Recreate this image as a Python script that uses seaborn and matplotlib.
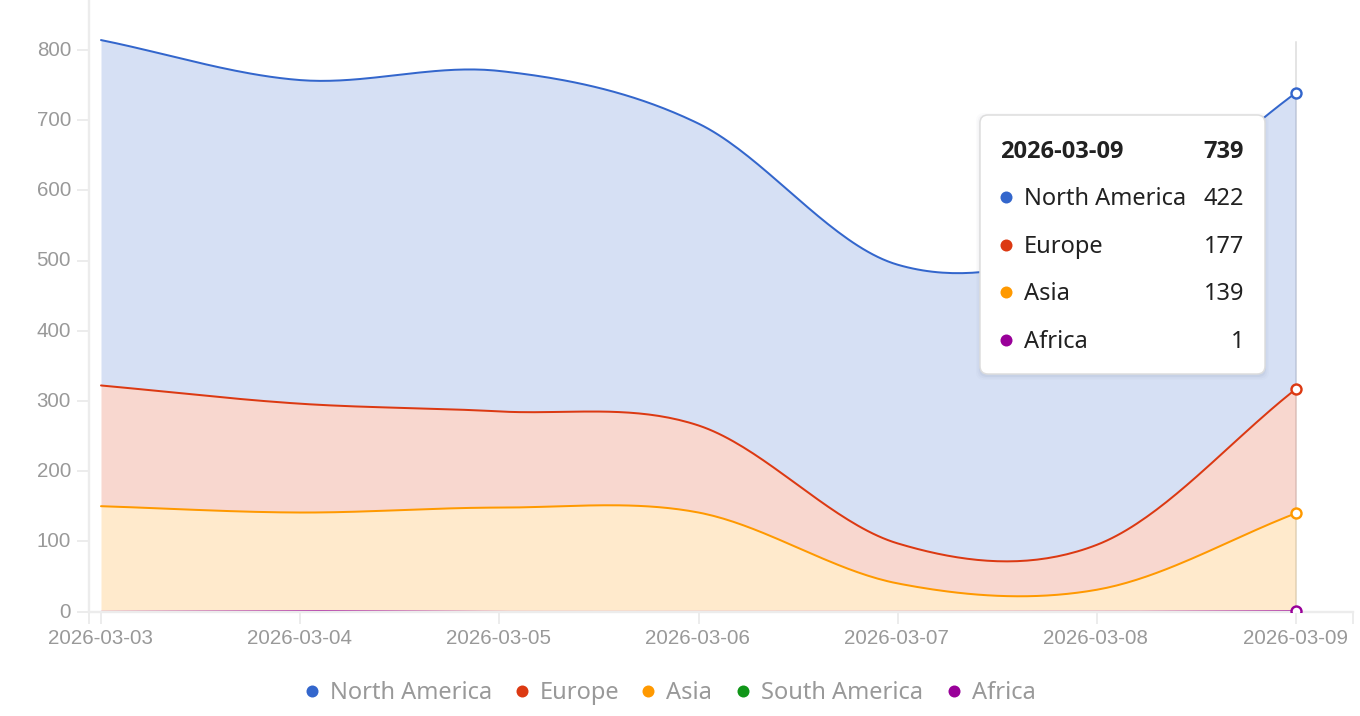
import numpy as np
import pandas as pd
import seaborn as sns
import matplotlib
matplotlib.use('Agg')
import matplotlib.pyplot as plt
import matplotlib.dates as mdates
from matplotlib.patches import FancyBboxPatch
from matplotlib.transforms import ScaledTranslation

# --- values ---
dates = pd.date_range('2026-03-03', periods=7, freq='D')
north_america = [492, 461, 485, 430, 397, 435, 422]
europe = [172, 155, 137, 124, 57, 64, 177]
asia = [150, 140, 148, 141, 40, 31, 139]
africa = [0, 1, 0, 0, 0, 0, 1]

y_ticks = [0, 100, 200, 300, 400, 500, 600, 700, 800]

legend_names = ['North America', 'Europe', 'Asia', 'South America', 'Africa']
colors = {'North America': '#3366cc', 'Europe': '#dc3912', 'Asia': '#ff9900',
          'South America': '#109618', 'Africa': '#990099'}

tooltip_title = '2026-03-09'
tooltip_total = '739'
tooltip_names = ['North America', 'Europe', 'Asia', 'Africa']
tooltip_values = ['422', '177', '139', '1']


def smooth(values, n=40):
    # catmull-rom curve through the daily points, same look as the web chart
    p = np.asarray(values, dtype=float)
    p = np.r_[2 * p[0] - p[1], p, 2 * p[-1] - p[-2]]
    out_x, out_y = [], []
    for i in range(len(values) - 1):
        u = np.linspace(0, 1, n, endpoint=False)
        p0, p1, p2, p3 = p[i], p[i + 1], p[i + 2], p[i + 3]
        y = 0.5 * (2 * p1 + (p2 - p0) * u + (2 * p0 - 5 * p1 + 4 * p2 - p3) * u ** 2
                   + (3 * p1 - p0 - 3 * p2 + p3) * u ** 3)
        out_x.append(i + u)
        out_y.append(y)
    out_x.append([len(values) - 1.0])
    out_y.append(p[-2:-1])
    return np.concatenate(out_x), np.concatenate(out_y)


sns.set_theme(style='white')
plt.rcParams['font.family'] = ['Liberation Sans', 'DejaVu Sans']

W, H = 1360, 716
fig = plt.figure(figsize=(W / 100, H / 100), dpi=100)
px = 0.72  # one pixel in points

axis_bottom = 611.5
ax = fig.add_axes([89 / W, (H - axis_bottom) / H, (1353 - 89) / W, axis_bottom / H])

start = dates[0]

# stack the series, africa at the bottom
top_africa = np.array(africa, dtype=float)
top_asia = top_africa + np.array(asia)
top_europe = top_asia + np.array(europe)
top_na = top_europe + np.array(north_america)

frames = []
bands = [('North America', top_europe, top_na), ('Europe', top_asia, top_europe),
         ('Asia', top_africa, top_asia)]
for name, low, high in bands:
    x, y_high = smooth(high)
    _, y_low = smooth(low)
    when = start + pd.to_timedelta(x, unit='D')
    ax.fill_between(when, y_low, y_high, color=colors[name], alpha=0.2, lw=0, zorder=1)
    frames.append(pd.DataFrame({'date': when, 'value': y_high, 'region': name}))
curves = pd.concat(frames, ignore_index=True)

sns.lineplot(data=curves, x='date', y='value', hue='region', estimator=None, sort=False,
             palette=colors, hue_order=['North America', 'Europe', 'Asia'],
             linewidth=2 * px, legend=False, ax=ax, zorder=3)

# africa sits under the axis line, so it only shows where it lifts off zero
x, y = smooth(top_africa)
africa_curve = pd.DataFrame({'date': start + pd.to_timedelta(x, unit='D'), 'value': y})
sns.lineplot(data=africa_curve, x='date', y='value', color=colors['Africa'], estimator=None,
             sort=False, linewidth=1.2 * px, ax=ax, zorder=2)

# hover line and the hollow markers on the last date
last = dates[-1]
ax.plot([last, last], [0, (axis_bottom - 42) / 0.702], color='#e4e4e4', lw=2 * px, zorder=0.5)
for name, value in [('North America', top_na[-1]), ('Europe', top_europe[-1]),
                    ('Asia', top_asia[-1]), ('Africa', top_africa[-1])]:
    ax.plot([last], [value], marker='o', ms=10 * px, mfc='white', mec=colors[name],
            mew=2.4 * px, zorder=4, clip_on=True)

# axes
ax.set_ylim(0, axis_bottom / 0.702)
x_left = start - pd.to_timedelta(12 / 199.17, unit='D')
x_right = start + pd.to_timedelta((1353 - 101) / 199.17, unit='D')
ax.set_xlim(x_left, x_right)
ax.set_xticks(dates)
ax.xaxis.set_major_formatter(mdates.DateFormatter('%Y-%m-%d'))
ax.set_xticks([x_left, x_right], minor=True)
ax.set_yticks(y_ticks)
ax.set_xlabel('')
ax.set_ylabel('')
sns.despine(ax=ax)
ax.set_facecolor('none')
for side in ['left', 'bottom']:
    ax.spines[side].set_color('#ececec')
    ax.spines[side].set_linewidth(2.4 * px)
ax.tick_params(axis='x', which='both', length=12 * px, width=2 * px, color='#ececec', bottom=True,
               labelsize=14.8, labelcolor='#999999', pad=4)
ax.tick_params(axis='y', length=12 * px, width=2 * px, color='#ececec', left=True,
               labelsize=14.8, labelcolor='#999999', pad=4.3)
up = ScaledTranslation(0, 1.5 / 100, fig.dpi_scale_trans)
for label in ax.get_yticklabels():
    label.set_transform(label.get_transform() + up)
left = ScaledTranslation(-1 / 100, 0, fig.dpi_scale_trans)
for label in ax.get_xticklabels():
    label.set_transform(label.get_transform() + left)

# overlay in pixel coordinates for legend and tooltip
ov = fig.add_axes([0, 0, 1, 1], zorder=5)
ov.set_xlim(0, W)
ov.set_ylim(H, 0)
ov.axis('off')
ui_font = ['Noto Sans', 'DejaVu Sans']
bold_font = ['Open Sans', 'DejaVu Sans']

legend_dots = [312, 522, 648, 743, 954]
legend_text = [330, 540, 666, 761, 972]
for name, dx, tx in zip(legend_names, legend_dots, legend_text):
    ov.scatter([dx], [691], s=(12 * px) ** 2, color=colors[name], lw=0)
    ov.text(tx, 699, name, family=ui_font, fontsize=17, color='#999999', va='baseline', ha='left')

# tooltip box, a few wide transparent boxes act as the shadow
for grow, alpha in [(4, 0.02), (2.5, 0.03), (1, 0.05)]:
    ov.add_patch(FancyBboxPatch((980 - grow, 115 - grow + 2), 285 + 2 * grow, 259 + 2 * grow,
                                boxstyle='round,pad=0,rounding_size=8', fc='#445577', ec='none', alpha=alpha))
ov.add_patch(FancyBboxPatch((986, 121), 273, 247, boxstyle='round,pad=6,rounding_size=8',
                            fc='white', ec='#dddddd', lw=1.5 * px))
ov.text(1000, 158, tooltip_title, family=bold_font, fontsize=17, fontweight='bold', color='#212121',
        va='baseline', ha='left')
ov.text(1244, 158, tooltip_total, family=bold_font, fontsize=17, fontweight='bold', color='#212121',
        va='baseline', ha='right')
for name, value, row in zip(tooltip_names, tooltip_values, [197, 245, 292, 340]):
    ov.scatter([1006], [row], s=(12 * px) ** 2, color=colors[name], lw=0)
    ov.text(1024, row + 8, name, family=ui_font, fontsize=17, color='#212121', va='baseline', ha='left')
    ov.text(1244, row + 8, value, family=ui_font, fontsize=17, color='#212121', va='baseline', ha='right')

fig.savefig('out.png', dpi=100, facecolor='white')
